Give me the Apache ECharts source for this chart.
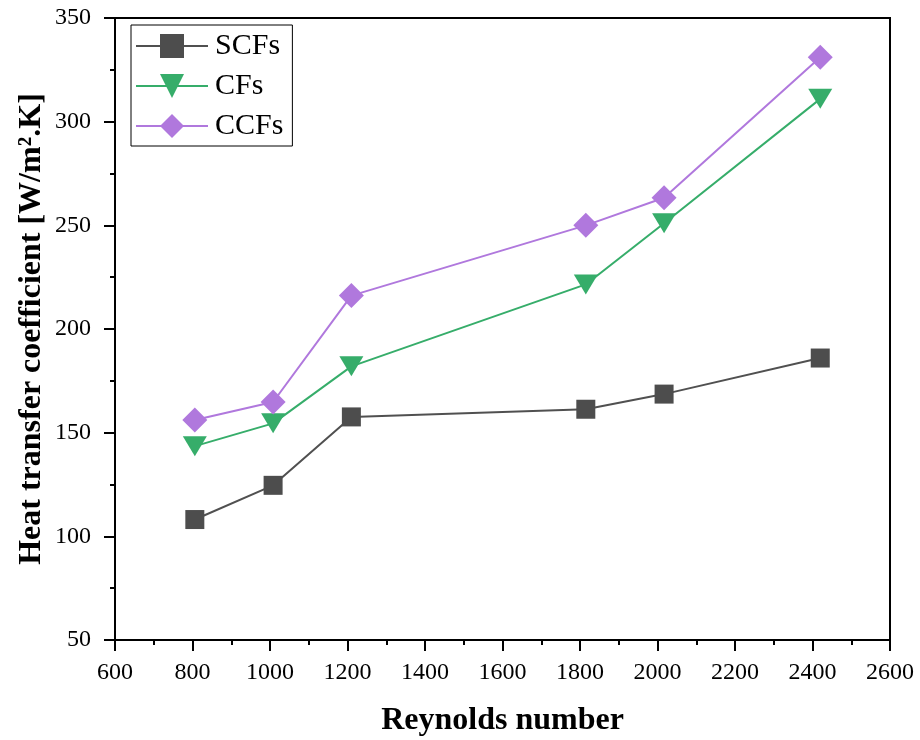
<!DOCTYPE html>
<html>
<head>
<meta charset="utf-8">
<script src="https://cdn.jsdelivr.net/npm/echarts@6/dist/echarts.min.js"></script>
<style>html,body{margin:0;padding:0;background:#fff}#chart{width:920px;height:740px}</style>
</head>
<body>
<div id="chart"></div>
<script>
const reynolds = [806, 1008, 1210, 1815, 2017, 2420];
const scfs = [108.1, 124.6, 157.6, 161.3, 168.6, 186.0];
const cfs  = [143.5, 154.5, 182.0, 221.5, 251.0, 311.0];
const ccfs = [156.1, 164.8, 216.1, 250.0, 263.3, 331.1];
const seriesNames = ['SCFs', 'CFs', 'CCFs'];
const xTitle = 'Reynolds number';
const yTitle = 'Heat transfer coefficient [W/m\u00B2.K]';

const FONT = '"Liberation Serif", "Times New Roman", serif';
const pair = (xs, ys) => xs.map((x, i) => [x, ys[i]]);

const chart = echarts.init(document.getElementById('chart'));
chart.setOption({
  backgroundColor: '#fff',
  animation: false,
  grid: {
    left: 115, right: 30, top: 18, bottom: 100,
    outerBoundsMode: 'none', containLabel: false,
    show: true, borderColor: '#000', borderWidth: 2, backgroundColor: 'transparent'
  },
  legend: {
    left: 131, top: 25,
    orient: 'vertical',
    itemWidth: 72, itemHeight: 30, itemGap: 10,
    padding: [6, 9, 5, 4],
    borderColor: '#000', borderWidth: 1,
    lineStyle: { width: 2 },
    textStyle: { fontFamily: FONT, fontSize: 30, color: '#000', padding: [0, 0, 0, 2] },
    data: seriesNames
  },
  xAxis: {
    type: 'value', min: 600, max: 2600, interval: 200,
    name: xTitle, nameLocation: 'middle', nameGap: 65, nameMoveOverlap: false,
    nameTextStyle: { fontFamily: FONT, fontSize: 32, fontWeight: 'bold', color: '#000' },
    axisLine: { show: true, lineStyle: { color: '#000', width: 2 } },
    axisTick: { show: true, inside: false, length: 11, lineStyle: { color: '#000', width: 2 } },
    minorTick: { show: true, splitNumber: 2, length: 5, lineStyle: { color: '#000', width: 2 } },
    axisLabel: { fontFamily: FONT, fontSize: 24, color: '#000', margin: 21, formatter: v => String(v) },
    splitLine: { show: false }
  },
  yAxis: {
    type: 'value', min: 50, max: 350, interval: 50,
    name: yTitle, nameLocation: 'middle', nameGap: 67, nameMoveOverlap: false,
    nameTextStyle: { fontFamily: FONT, fontSize: 32, fontWeight: 'bold', color: '#000' },
    axisLine: { show: true, lineStyle: { color: '#000', width: 2 } },
    axisTick: { show: true, inside: false, length: 11, lineStyle: { color: '#000', width: 2 } },
    minorTick: { show: true, splitNumber: 2, length: 5, lineStyle: { color: '#000', width: 2 } },
    axisLabel: { fontFamily: FONT, fontSize: 24, color: '#000', margin: 24, formatter: v => String(v) },
    splitLine: { show: false }
  },
  series: [
    {
      name: seriesNames[0], type: 'line', data: pair(reynolds, scfs),
      symbol: 'rect', symbolSize: 19,
      lineStyle: { color: '#505050', width: 2 },
      itemStyle: { color: '#4d4d4d' }
    },
    {
      name: seriesNames[1], type: 'line', data: pair(reynolds, cfs),
      symbol: 'triangle', symbolSize: [24, 20], symbolRotate: 180,
      lineStyle: { color: '#36ad6a', width: 2 },
      itemStyle: { color: '#36ad6a' }
    },
    {
      name: seriesNames[2], type: 'line', data: pair(reynolds, ccfs),
      symbol: 'diamond', symbolSize: 25,
      lineStyle: { color: '#b078dd', width: 2 },
      itemStyle: { color: '#b078dd' }
    }
  ]
});
</script>
</body>
</html>
